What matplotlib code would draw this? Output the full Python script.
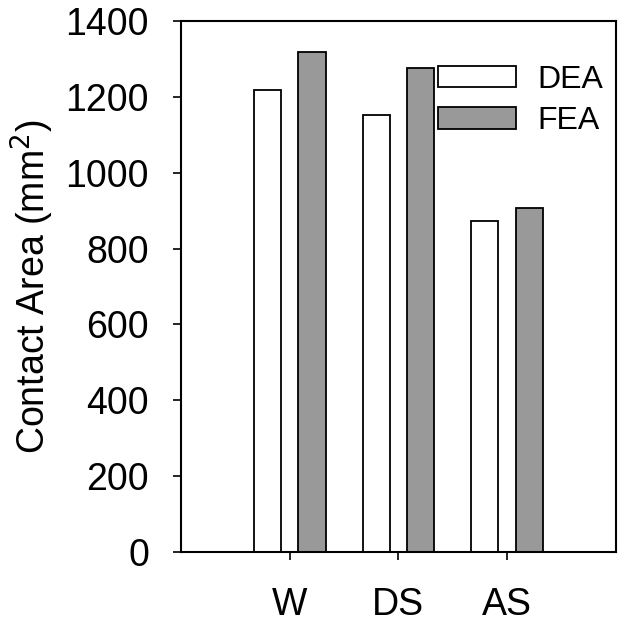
import numpy as np
import matplotlib
matplotlib.use("Agg")
import matplotlib.pyplot as plt

# dane
kategorie = ["W", "DS", "AS"]
dea = [1219, 1152, 874]
fea = [1318, 1276, 908]

plt.rcParams['font.family'] = ['Liberation Sans', 'DejaVu Sans']

fig = plt.figure(figsize=(6.24, 6.25), dpi=100)
ax = fig.add_axes([0.290, 0.1168, 0.697, 0.8496])

x = np.arange(1, len(kategorie) + 1)
szer = 0.25
ax.bar(x - 0.205, dea, szer, color='white', edgecolor='black', linewidth=1.3, label='DEA')
ax.bar(x + 0.205, fea, szer, color='#999999', edgecolor='black', linewidth=1.3, label='FEA')

ax.set_xlim(0, 4)
ax.set_ylim(0, 1400)
ax.set_yticks(np.arange(0, 1401, 200))
ax.set_xticks(x)
ax.set_xticklabels(kategorie)
ax.tick_params(axis='both', direction='out', length=6, width=1.2, labelsize=27)
ax.tick_params(axis='y', pad=17)
ax.tick_params(axis='x', pad=19)
for s in ax.spines.values():
    s.set_linewidth(1.5)

ax.set_ylabel('Contact Area (mm$^2$)', fontsize=27, labelpad=7)

ax.legend(loc='upper right', bbox_to_anchor=(1.0, 0.942), frameon=False, fontsize=23,
          handlelength=2.45, handleheight=0.66, handletextpad=0.65, labelspacing=0.36,
          borderaxespad=0.0)

fig.savefig('out.png', dpi=100)
